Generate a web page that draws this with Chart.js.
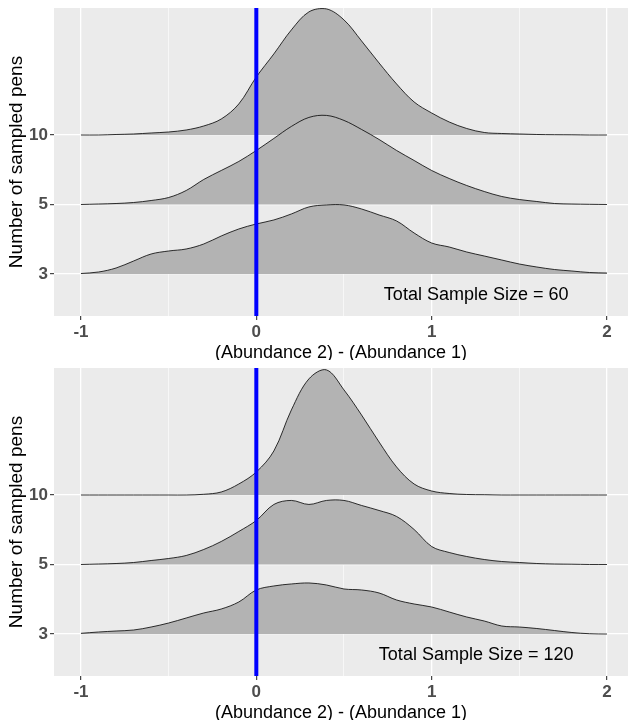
<!DOCTYPE html>
<html>
<head>
<meta charset="utf-8">
<script src="https://cdn.jsdelivr.net/npm/chart.js@4"></script>
<style>
    body { margin: 0; background: #ffffff; width: 628px; height: 723px; overflow: hidden; }
    .panel { width: 628px; height: 360px; }
    canvas { display: block; }
</style>
</head>
<body>
<div class="panel"><canvas id="chart60" width="628" height="360"></canvas></div>
<div class="panel"><canvas id="chart120" width="628" height="360"></canvas></div>
<script>

// x grid shared by every ridge (difference in abundance)
const xValues = [-1, -0.9, -0.8, -0.7, -0.6, -0.5, -0.4, -0.3, -0.2, -0.1, 0,
    0.1, 0.2, 0.3, 0.4, 0.5, 0.6, 0.7, 0.8, 0.9, 1,
    1.1, 1.2, 1.3, 1.4, 1.5, 1.6, 1.7, 1.8, 1.9, 2];

const rowLabels = ["3", "5", "10"];
const xTicks = [-1, -0.5, 0, 0.5, 1, 1.5, 2];

// densities, total sample size = 60
const dens60_3 = [0.005, 0.02, 0.06, 0.13, 0.20, 0.23, 0.25, 0.30, 0.38, 0.45, 0.50,
    0.54, 0.60, 0.67, 0.69, 0.69, 0.65, 0.59, 0.53, 0.41, 0.31,
    0.27, 0.22, 0.18, 0.14, 0.10, 0.07, 0.045, 0.03, 0.015, 0.01];
const dens60_5 = [0, 0.005, 0.01, 0.02, 0.04, 0.07, 0.14, 0.25, 0.34, 0.43, 0.54,
    0.66, 0.78, 0.87, 0.89, 0.84, 0.75, 0.65, 0.54, 0.44, 0.34,
    0.26, 0.19, 0.13, 0.08, 0.05, 0.03, 0.01, 0.005, 0.002, 0];
const dens60_10 = [0, 0, 0.005, 0.01, 0.02, 0.03, 0.05, 0.09, 0.16, 0.31, 0.58,
    0.81, 1.05, 1.23, 1.26, 1.15, 0.94, 0.72, 0.51, 0.33, 0.22,
    0.13, 0.065, 0.025, 0.015, 0.01, 0.005, 0.003, 0.002, 0, 0];

// densities, total sample size = 120
const dens120_3 = [0.007, 0.02, 0.03, 0.04, 0.07, 0.11, 0.16, 0.21, 0.25, 0.32, 0.44,
    0.48, 0.50, 0.51, 0.49, 0.45, 0.44, 0.41, 0.34, 0.30, 0.27,
    0.22, 0.17, 0.13, 0.08, 0.07, 0.055, 0.035, 0.015, 0.003, 0];
const dens120_5 = [0, 0.005, 0.01, 0.02, 0.04, 0.06, 0.09, 0.15, 0.23, 0.33, 0.44,
    0.60, 0.64, 0.60, 0.64, 0.64, 0.59, 0.54, 0.48, 0.35, 0.18,
    0.12, 0.08, 0.05, 0.03, 0.02, 0.01, 0.005, 0.003, 0, 0];
const dens120_10 = [0, 0, 0, 0, 0, 0, 0, 0.007, 0.03, 0.11, 0.23,
    0.44, 0.85, 1.16, 1.25, 1.05, 0.80, 0.53, 0.28, 0.11, 0.04,
    0.015, 0.005, 0.003, 0, 0, 0, 0, 0, 0, 0];

const ridgeScale = 1.44;
const yMin = 0.396;
const yMax = 4.827;

const fontFamily = '"Liberation Sans", Arial, sans-serif';

function isMajor(v) {
    return Math.abs(v - Math.round(v)) < 1e-9;
}

function ridgeDataset(dens, row) {
    return {
        data: xValues.map((x, i) => ({ x: x, y: row + dens[i] * ridgeScale })),
        borderColor: "#000000",
        borderWidth: 0.8,
        backgroundColor: "#b3b3b3",
        fill: { value: row },
        pointRadius: 0,
        tension: 0.35,
        order: row
    };
}

const panelPlugin = {
    id: "panel",
    beforeDraw(chart) {
        const ctx = chart.ctx;
        const a = chart.chartArea;
        ctx.save();
        ctx.fillStyle = "#ffffff";
        ctx.fillRect(0, 0, chart.width, chart.height);
        ctx.fillStyle = "#ebebeb";
        ctx.fillRect(a.left, a.top, a.right - a.left, a.bottom - a.top);
        ctx.restore();
    },
    afterDraw(chart) {
        const ctx = chart.ctx;
        const label = chart.options.plugins.panel.label;
        ctx.save();
        ctx.font = "18px " + fontFamily;
        ctx.fillStyle = "#000000";
        ctx.textAlign = "center";
        ctx.textBaseline = "middle";
        ctx.fillText(label, chart.scales.x.getPixelForValue(1.254), chart.scales.y.getPixelForValue(0.70));
        ctx.restore();
    }
};

function makeChart(canvasId, sampleSize, dens3, dens5, dens10) {

    const datasets = [
        {
            data: [{ x: 0, y: yMin }, { x: 0, y: yMax }],
            borderColor: "#0000ff",
            borderWidth: 4,
            pointRadius: 0,
            fill: false,
            order: 0
        },
        ridgeDataset(dens3, 1),
        ridgeDataset(dens5, 2),
        ridgeDataset(dens10, 3)
    ];

    return new Chart(document.getElementById(canvasId), {
        type: "line",
        data: { datasets: datasets },
        plugins: [panelPlugin],
        options: {
            responsive: false,
            animation: false,
            layout: { padding: { top: 8, left: 0, right: 0, bottom: 0 } },
            plugins: {
                legend: { display: false },
                tooltip: { enabled: false },
                panel: { label: "Total Sample Size = " + sampleSize }
            },
            scales: {
                x: {
                    type: "linear",
                    min: -1.154,
                    max: 2.12,
                    afterBuildTicks: (s) => { s.ticks = xTicks.map((v) => ({ value: v })); },
                    afterFit: (s) => { s.height = 44; s.paddingLeft = 0; s.paddingRight = 0; },
                    border: { display: false },
                    grid: {
                        color: "#ffffff",
                        lineWidth: (c) => isMajor(c.tick.value) ? 1.3 : 0.6,
                        tickColor: (c) => isMajor(c.tick.value) ? "#333333" : "rgba(0,0,0,0)",
                        tickWidth: 1.1,
                        tickLength: 4
                    },
                    ticks: {
                        autoSkip: false,
                        maxRotation: 0,
                        padding: 2,
                        color: "#4d4d4d",
                        font: { family: fontFamily, size: 17, weight: "bold" },
                        callback: (v) => isMajor(v) ? String(Math.round(v)) : ""
                    },
                    title: {
                        display: true,
                        text: "(Abundance 2) - (Abundance 1)",
                        color: "#000000",
                        padding: { top: 0, bottom: 0 },
                        font: { family: fontFamily, size: 18, lineHeight: 0.8 }
                    }
                },
                y: {
                    type: "linear",
                    min: yMin,
                    max: yMax,
                    afterBuildTicks: (s) => { s.ticks = [1, 2, 3].map((v) => ({ value: v })); },
                    afterFit: (s) => { s.width = 54; s.paddingTop = 0; s.paddingBottom = 0; },
                    border: { display: false },
                    grid: {
                        color: "#ffffff",
                        lineWidth: 1.3,
                        tickColor: "#333333",
                        tickWidth: 1.1,
                        tickLength: 4
                    },
                    ticks: {
                        padding: 2,
                        color: "#4d4d4d",
                        font: { family: fontFamily, size: 17, weight: "bold" },
                        callback: (v) => rowLabels[Math.round(v) - 1]
                    },
                    title: {
                        display: true,
                        text: "Number of sampled pens",
                        color: "#000000",
                        padding: { top: 5.5, bottom: 0 },
                        font: { family: fontFamily, size: 19 }
                    }
                }
            }
        }
    });
}

makeChart("chart60", 60, dens60_3, dens60_5, dens60_10);
makeChart("chart120", 120, dens120_3, dens120_5, dens120_10);

</script>
</body>
</html>
